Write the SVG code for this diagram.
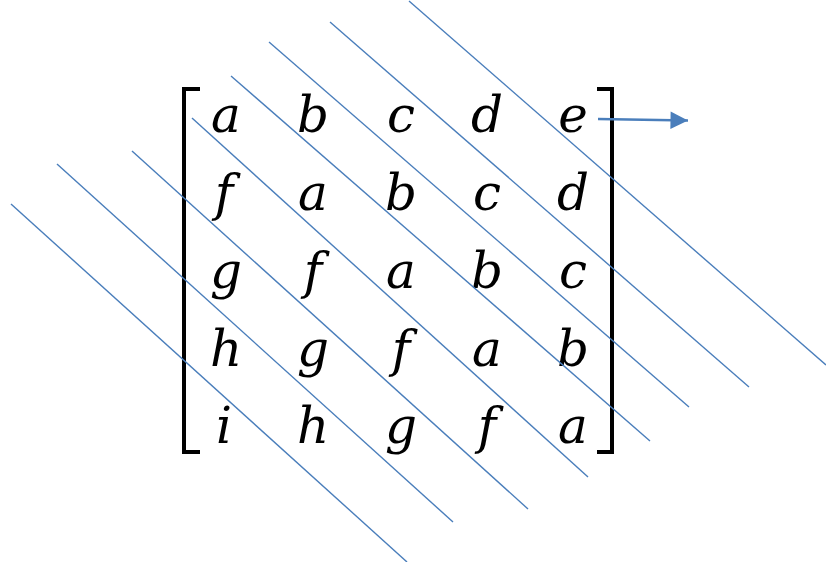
<svg xmlns="http://www.w3.org/2000/svg" width="826" height="562" viewBox="0 0 826 562">
<style>
.ln{stroke:#4A7EBB;stroke-width:1.4;fill:none}
.br{stroke:#000;stroke-width:4;fill:none}
.m{font-family:"DejaVu Serif","Liberation Serif",serif;font-style:italic;font-size:50px;fill:#000;text-anchor:middle}
</style>
<defs>
<marker id="ah" viewBox="0 0 10 10" refX="10" refY="5" markerWidth="7.5" markerHeight="7" markerUnits="strokeWidth" orient="auto">
<path d="M0,0L10,5L0,10z" fill="#4A7EBB"/>
</marker>
</defs>
<rect width="826" height="562" fill="#fff"/>
<g id="matrix">
<g id="brackets">
<path class="br" d="M200,89H184V452H200"/>
<path class="br" d="M597,89H612V452H597"/>
</g>
<g id="r1"><text class="m" x="226" y="132">a</text><text class="m" x="313" y="132">b</text><text class="m" x="401" y="132">c</text><text class="m" x="487" y="132">d</text><text class="m" x="573" y="132">e</text></g>
<g id="r2"><text class="m" x="224" y="210">f</text><text class="m" x="313" y="210">a</text><text class="m" x="401" y="210">b</text><text class="m" x="487" y="210">c</text><text class="m" x="573" y="210">d</text></g>
<g id="r3"><text class="m" x="226" y="288">g</text><text class="m" x="313" y="288">f</text><text class="m" x="401" y="288">a</text><text class="m" x="487" y="288">b</text><text class="m" x="573" y="288">c</text></g>
<g id="r4"><text class="m" x="226" y="366">h</text><text class="m" x="313" y="366">g</text><text class="m" x="401" y="366">f</text><text class="m" x="487" y="366">a</text><text class="m" x="573" y="366">b</text></g>
<g id="r5"><text class="m" x="224" y="443">i</text><text class="m" x="313" y="443">h</text><text class="m" x="401" y="443">g</text><text class="m" x="487" y="443">f</text><text class="m" x="573" y="443">a</text></g>
</g>
<g id="connectors">
<line class="ln" x1="11" y1="204" x2="407" y2="562"/>
<line class="ln" x1="57" y1="164" x2="453" y2="522"/>
<line class="ln" x1="132" y1="151" x2="528" y2="509"/>
<line class="ln" x1="192" y1="118" x2="588" y2="477"/>
<line class="ln" x1="231" y1="76" x2="650" y2="441"/>
<line class="ln" x1="269" y1="42" x2="689" y2="407"/>
<line class="ln" x1="330" y1="22" x2="749" y2="387"/>
<line class="ln" x1="409" y1="1" x2="826" y2="365"/>
<line x1="598" y1="119" x2="688" y2="120.5" stroke="#4A7EBB" stroke-width="2.5" marker-end="url(#ah)"/>
</g>
</svg>
